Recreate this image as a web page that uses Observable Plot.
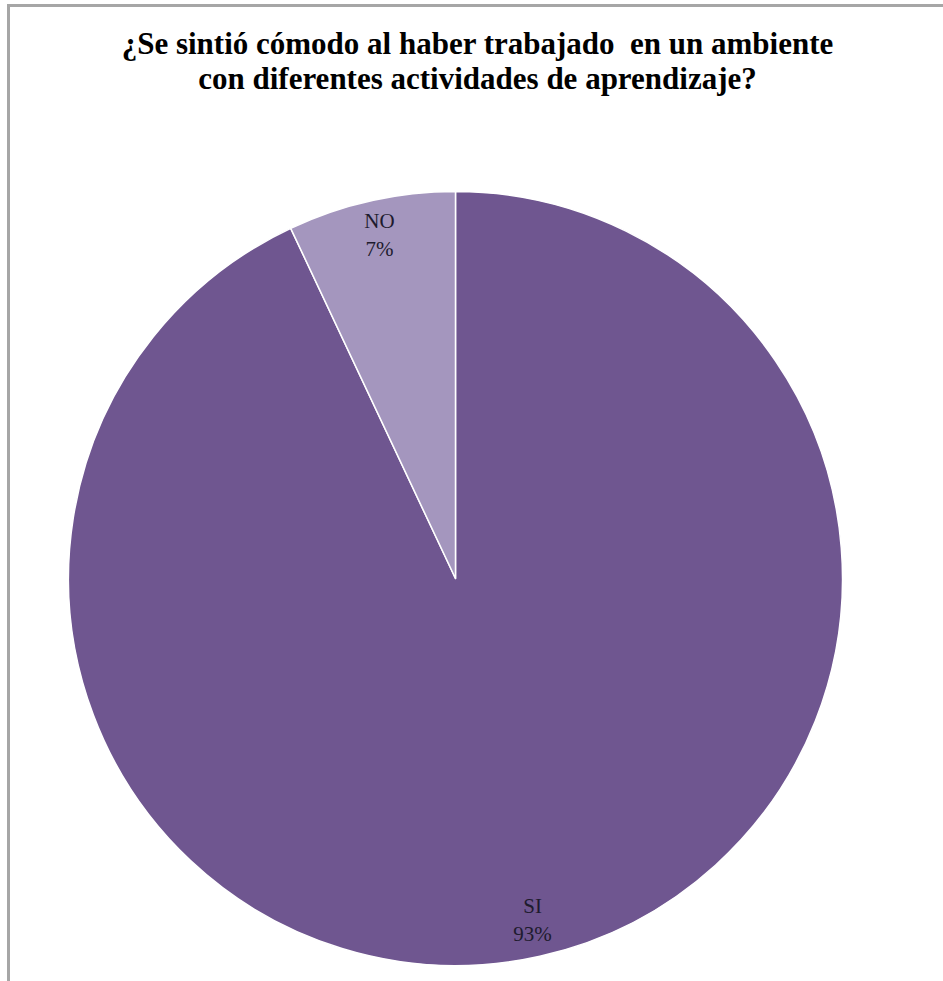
<!DOCTYPE html>
<html>
<head>
<meta charset="utf-8">
<script src="https://cdn.jsdelivr.net/npm/d3@7"></script>
<script src="https://cdn.jsdelivr.net/npm/@observablehq/plot@0.6"></script>
<style>
  html, body { margin: 0; padding: 0; background: #fff; }
  #page { position: relative; width: 943px; height: 981px; overflow: hidden; }
  #frame { position: absolute; left: 7px; top: 4px; width: 960px; height: 1000px;
           border-top: 3px solid #a6a6a6; border-left: 3px solid #a6a6a6; box-sizing: border-box; }
  #title { position: absolute; left: 10px; width: 935px; top: 26px; text-align: center;
           font-family: "Liberation Serif", "Times New Roman", serif; font-weight: bold;
           font-size: 31px; line-height: 35px; color: #000; white-space: nowrap; }
  #chart { position: absolute; left: 0; top: 0; }
</style>
</head>
<body>
<div id="page">
  <div id="frame"></div>
  <div id="title">¿Se sintió cómodo al haber trabajado&nbsp; en un ambiente<br>con diferentes actividades de aprendizaje?</div>
  <div id="chart"></div>
</div>
<script>
const categories = ["SI", "NO"];
const values = [93, 7];
const percentLabels = ["93%", "7%"];
const colors = ["#6f5690", "#a496be"];

const pie = d3.pie().sort(null).value(d => d.value);
const slices = pie(categories.map((c, i) => ({category: c, value: values[i], pct: percentLabels[i]})));
const labelRadius = 0.907;
const labels = slices.map(s => {
  const mid = (s.startAngle + s.endAngle) / 2;
  return {x: Math.sin(mid) * labelRadius, y: Math.cos(mid) * labelRadius, text: s.data.category + "\n" + s.data.pct};
});

function pieMark(data) {
  return (index, scales, values, dimensions, context) => {
    const cx = scales.x(0), cy = scales.y(0);
    const r = Math.abs(scales.x(1) - scales.x(0));
    const g = d3.create("svg:g").attr("transform", `translate(${cx},${cy})`);
    const arc = d3.arc().innerRadius(0).outerRadius(r);
    g.selectAll("path").data(data).join("path")
      .attr("d", arc)
      .attr("fill", d => scales.color(d.data.category))
      .attr("stroke", "#ffffff")
      .attr("stroke-width", 1.5)
      .attr("stroke-linejoin", "round");
    return g.node();
  };
}

const W = 943, H = 981;
const cxPx = 455.5, cyPx = 578.5, R = 387;
const chart = Plot.plot({
  width: W,
  height: H,
  marginLeft: cxPx - R,
  marginRight: W - (cxPx + R),
  marginTop: cyPx - R,
  marginBottom: H - (cyPx + R),
  x: {domain: [-1, 1], axis: null},
  y: {domain: [-1, 1], axis: null},
  color: {domain: categories, range: colors},
  style: {background: "transparent"},
  marks: [
    pieMark(slices),
    Plot.text(labels, {x: "x", y: "y", text: "text", dy: -3.5, fontSize: 21, lineHeight: 1.36,
      fontFamily: "Liberation Serif, Times New Roman, serif", fill: "#1e1b2e"})
  ]
});
document.getElementById("chart").appendChild(chart);
</script>
</body>
</html>
